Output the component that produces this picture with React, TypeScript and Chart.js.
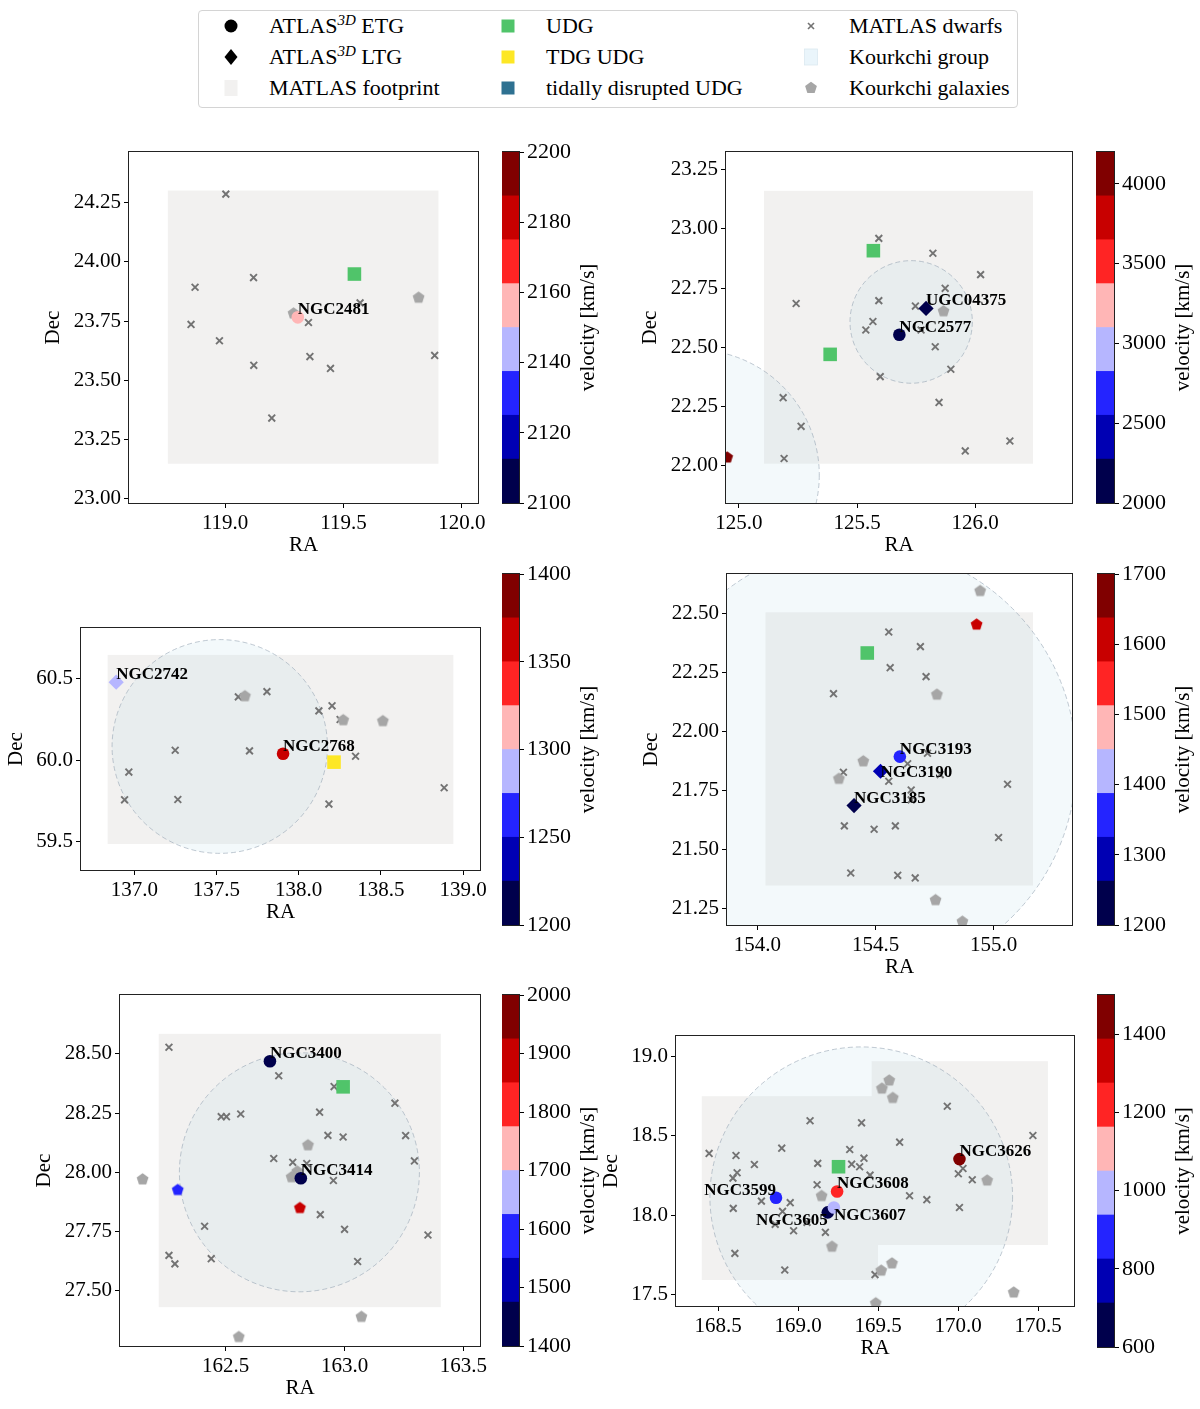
import React, { useEffect, useRef } from "react";
import { Chart, registerables } from "chart.js";
Chart.register(...registerables);

const SERIF = "'Liberation Serif', 'Times New Roman', Times, serif";
const SEISMIC = ["#00004c", "#0000b3", "#2424ff", "#b6b6ff", "#ffb6b6", "#ff2424", "#c80000", "#800000"];
const FOOTPRINT_COLOR = "#f2f1f0";
const GROUP_FILL = "rgba(173, 216, 230, 0.15)";
const GROUP_EDGE = "rgba(150, 165, 180, 0.6)";
const DWARF_COLOR = "#737373";
const KOURKCHI_COLOR = "#a6a6a6";
const UDG_COLOR = "#50c46a";
const TDG_COLOR = "#fde725";
const TIDAL_COLOR = "#2e7191";

type Pt = [number, number];
type VPt = [number, number, number];
type Gal = [string, number, number, number];
type Rect = [number, number, number, number];

// ---------------- Panel 1: NGC2481 ----------------
const p1RA: Pt = [118.594, 120.068];
const p1Dec: Pt = [22.981, 24.465];
const p1RATicks = [119.0, 119.5, 120.0];
const p1DecTicks = [23.0, 23.25, 23.5, 23.75, 24.0, 24.25];
const p1Vel: Pt = [2100, 2200];
const p1VelTicks = [2100, 2120, 2140, 2160, 2180, 2200];
const p1Footprint: Rect[] = [[118.758, 119.901, 23.147, 24.302]];
const p1Groups: VPt[] = [];
const p1Dwarfs: Pt[] = [
  [119.003, 24.287], [118.873, 23.893], [118.856, 23.736], [118.976, 23.667], [119.12, 23.934],
  [119.121, 23.563], [119.197, 23.34], [119.352, 23.744], [119.358, 23.6], [119.445, 23.55],
  [119.57, 23.827], [119.885, 23.605],
];
const p1Kourkchi: Pt[] = [[119.289, 23.782], [119.817, 23.849]];
const p1KourkchiVel: VPt[] = [];
const p1UDG: Pt[] = [[119.546, 23.949]];
const p1TDG: Pt[] = [];
const p1ETG: Gal[] = [["NGC2481", 119.307, 23.766, 2157]];
const p1LTG: Gal[] = [];

// ---------------- Panel 2: NGC2577 ----------------
const p2RA: Pt = [124.945, 126.41];
const p2Dec: Pt = [21.842, 23.325];
const p2RATicks = [125.0, 125.5, 126.0];
const p2DecTicks = [22.0, 22.25, 22.5, 22.75, 23.0, 23.25];
const p2Vel: Pt = [2000, 4200];
const p2VelTicks = [2000, 2500, 3000, 3500, 4000];
const p2Footprint: Rect[] = [[125.106, 126.245, 22.008, 23.161]];
const p2Groups: VPt[] = [[125.729, 22.607, 0.259], [124.81, 21.96, 0.53]];
const p2Dwarfs: Pt[] = [
  [125.592, 22.96], [125.821, 22.897], [126.023, 22.807], [125.873, 22.749], [125.242, 22.685],
  [125.592, 22.697], [125.747, 22.674], [125.567, 22.609], [125.537, 22.573], [125.771, 22.573],
  [125.831, 22.502], [125.897, 22.407], [125.598, 22.376], [125.847, 22.267], [125.187, 22.287],
  [125.263, 22.166], [125.191, 22.03], [125.958, 22.062], [126.147, 22.104],
];
const p2Kourkchi: Pt[] = [[125.866, 22.652]];
const p2KourkchiVel: VPt[] = [[124.95, 22.034, 4150]];
const p2UDG: Pt[] = [[125.569, 22.908], [125.386, 22.47]];
const p2TDG: Pt[] = [];
const p2ETG: Gal[] = [["NGC2577", 125.679, 22.553, 2060]];
const p2LTG: Gal[] = [["UGC04375", 125.792, 22.664, 2110]];

// ---------------- Panel 3: NGC2768 ----------------
const p3RA: Pt = [136.676, 139.103];
const p3Dec: Pt = [59.327, 60.81];
const p3RATicks = [137.0, 137.5, 138.0, 138.5, 139.0];
const p3DecTicks = [59.5, 60.0, 60.5];
const p3Vel: Pt = [1200, 1400];
const p3VelTicks = [1200, 1250, 1300, 1350, 1400];
const p3Footprint: Rect[] = [[136.838, 138.941, 59.486, 60.645]];
const p3Groups: VPt[] = [[137.52, 60.084, 0.655]];
const p3Dwarfs: Pt[] = [
  [137.633, 60.388], [137.807, 60.42], [138.123, 60.302], [138.203, 60.333], [138.252, 60.249],
  [137.249, 60.061], [137.701, 60.057], [138.346, 60.024], [136.967, 59.927], [136.941, 59.757],
  [137.265, 59.759], [138.184, 59.731], [138.885, 59.831],
];
const p3Kourkchi: Pt[] = [[137.673, 60.392], [138.271, 60.245], [138.512, 60.239]];
const p3KourkchiVel: VPt[] = [];
const p3UDG: Pt[] = [];
const p3TDG: Pt[] = [[138.215, 59.988]];
const p3ETG: Gal[] = [["NGC2768", 137.905, 60.039, 1360]];
const p3LTG: Gal[] = [["NGC2742", 136.89, 60.478, 1290]];

// ---------------- Panel 4: NGC3193 ----------------
const p4RA: Pt = [153.871, 155.332];
const p4Dec: Pt = [21.182, 22.666];
const p4RATicks = [154.0, 154.5, 155.0];
const p4DecTicks = [21.25, 21.5, 21.75, 22.0, 22.25, 22.5];
const p4Vel: Pt = [1200, 1700];
const p4VelTicks = [1200, 1300, 1400, 1500, 1600, 1700];
const p4Footprint: Rect[] = [[154.034, 155.167, 21.349, 22.504]];
const p4Groups: VPt[] = [[154.43, 21.869, 0.92]];
const p4Dwarfs: Pt[] = [
  [154.556, 22.421], [154.69, 22.359], [154.562, 22.27], [154.714, 22.232], [154.322, 22.16],
  [154.72, 21.908], [154.636, 21.864], [154.364, 21.828], [154.556, 21.79], [154.774, 21.818],
  [154.651, 21.753], [154.651, 21.711], [155.059, 21.777], [154.368, 21.601], [154.494, 21.587],
  [154.584, 21.601], [155.021, 21.552], [154.395, 21.402], [154.594, 21.392], [154.668, 21.381],
];
const p4Kourkchi: Pt[] = [
  [154.943, 22.594], [154.76, 22.156], [154.448, 21.874], [154.345, 21.8], [154.754, 21.287], [154.868, 21.196],
];
const p4KourkchiVel: VPt[] = [[154.928, 22.452, 1610]];
const p4UDG: Pt[] = [[154.465, 22.332]];
const p4TDG: Pt[] = [];
const p4ETG: Gal[] = [["NGC3193", 154.603, 21.894, 1370]];
const p4LTG: Gal[] = [["NGC3190", 154.521, 21.832, 1290], ["NGC3185", 154.409, 21.687, 1230]];

// ---------------- Panel 5: NGC3414 ----------------
const p5RA: Pt = [162.055, 163.57];
const p5Dec: Pt = [27.266, 28.749];
const p5RATicks = [162.5, 163.0, 163.5];
const p5DecTicks = [27.5, 27.75, 28.0, 28.25, 28.5];
const p5Vel: Pt = [1400, 2000];
const p5VelTicks = [1400, 1500, 1600, 1700, 1800, 1900, 2000];
const p5Footprint: Rect[] = [[162.218, 163.405, 27.43, 28.585]];
const p5Groups: VPt[] = [[162.81, 28.0, 0.505]];
const p5Dwarfs: Pt[] = [
  [162.261, 28.528], [162.723, 28.408], [162.956, 28.362], [162.481, 28.235], [162.503, 28.235],
  [162.563, 28.246], [162.895, 28.254], [163.212, 28.292], [162.93, 28.156], [162.994, 28.149],
  [163.257, 28.155], [162.702, 28.058], [162.782, 28.042], [162.841, 28.037], [163.294, 28.048],
  [162.953, 27.965], [162.898, 27.821], [163.0, 27.759], [163.351, 27.735], [162.411, 27.772],
  [162.261, 27.649], [162.286, 27.613], [162.439, 27.635], [163.055, 27.623],
];
const p5Kourkchi: Pt[] = [
  [162.846, 28.114], [162.801, 28.003], [162.777, 27.979], [162.15, 27.97], [162.555, 27.304], [163.071, 27.389],
];
const p5KourkchiVel: VPt[] = [[162.298, 27.925, 1590], [162.812, 27.849, 1880]];
const p5UDG: Pt[] = [[162.994, 28.361]];
const p5TDG: Pt[] = [];
const p5ETG: Gal[] = [["NGC3400", 162.686, 28.469, 1440], ["NGC3414", 162.816, 27.975, 1450]];
const p5LTG: Gal[] = [];

// ---------------- Panel 6: NGC3607 ----------------
const p6RA: Pt = [168.236, 170.724];
const p6Dec: Pt = [17.426, 19.13];
const p6RATicks = [168.5, 169.0, 169.5, 170.0, 170.5];
const p6DecTicks = [17.5, 18.0, 18.5, 19.0];
const p6Vel: Pt = [600, 1500];
const p6VelTicks = [600, 800, 1000, 1200, 1400];
const p6Footprint: Rect[] = [[168.397, 169.499, 17.59, 18.75], [169.459, 170.561, 17.811, 18.971]];
const p6Groups: VPt[] = [[169.394, 18.115, 0.946]];
const p6Dwarfs: Pt[] = [
  [168.443, 18.389], [168.611, 18.376], [168.618, 18.267], [168.592, 18.233], [168.726, 18.319],
  [168.897, 18.422], [169.074, 18.595], [169.396, 18.582], [169.122, 18.326], [169.322, 18.414],
  [169.334, 18.321], [169.411, 18.359], [169.384, 18.305], [169.449, 18.252], [169.634, 18.46],
  [169.118, 18.191], [168.77, 18.088], [168.95, 18.078], [168.594, 18.042], [168.902, 18.023],
  [168.856, 17.941], [168.971, 17.901], [169.055, 17.954], [169.17, 17.891], [169.696, 18.122],
  [169.804, 18.097], [169.932, 18.687], [170.001, 18.261], [170.03, 18.294], [170.088, 18.223],
  [170.008, 18.048], [170.467, 18.502], [168.604, 17.758], [168.916, 17.653], [169.48, 17.624],
];
const p6Kourkchi: Pt[] = [
  [169.569, 18.849], [169.523, 18.798], [169.591, 18.739], [169.146, 18.12], [169.211, 17.8],
  [169.519, 17.649], [169.586, 17.695], [170.181, 18.218], [170.347, 17.511], [169.485, 17.443],
];
const p6KourkchiVel: VPt[] = [];
const p6UDG: Pt[] = [[169.252, 18.305]];
const p6TDG: Pt[] = [];
const p6ETG: Gal[] = [
  ["NGC3626", 170.008, 18.353, 1480], ["NGC3599", 168.861, 18.109, 850], ["NGC3608", 169.243, 18.149, 1220],
  ["NGC3605", 169.185, 18.017, 660], ["NGC3607", 169.223, 18.048, 980],
];
const p6LTG: Gal[] = [];

// label anchoring (style)
const LABEL_ALIGN: Record<string, [CanvasTextAlign, string]> = {
  NGC3599: ["right", "bottom"],
  NGC3605: ["right", "top"],
  NGC3607: ["left", "top"],
  NGC3190: ["left", "middle"],
};

// layout of each panel in page pixels: axes box [L,T,R,B], y-axis band width, colorbar box
const LAYOUT = [
  { box: [129, 152, 478, 503], yw: 88, cb: [502, 152, 519, 503] },
  { box: [726, 152, 1072, 503], yw: 88, cb: [1096, 152, 1114, 503] },
  { box: [81, 628, 480, 870], yw: 77, cb: [502, 574, 519, 925] },
  { box: [727, 574, 1072, 925], yw: 88, cb: [1097, 574, 1114, 925] },
  { box: [120, 995, 480, 1346], yw: 88, cb: [502, 995, 519, 1346] },
  { box: [676, 1036, 1074, 1306], yw: 77, cb: [1097, 995, 1114, 1347] },
];

const PANELS = [
  { ra: p1RA, dec: p1Dec, raTicks: p1RATicks, decTicks: p1DecTicks, decDigits: 2, vel: p1Vel, velTicks: p1VelTicks, footprint: p1Footprint, groups: p1Groups, dwarfs: p1Dwarfs, kourkchi: p1Kourkchi, kourkchiVel: p1KourkchiVel, udg: p1UDG, tdg: p1TDG, etg: p1ETG, ltg: p1LTG },
  { ra: p2RA, dec: p2Dec, raTicks: p2RATicks, decTicks: p2DecTicks, decDigits: 2, vel: p2Vel, velTicks: p2VelTicks, footprint: p2Footprint, groups: p2Groups, dwarfs: p2Dwarfs, kourkchi: p2Kourkchi, kourkchiVel: p2KourkchiVel, udg: p2UDG, tdg: p2TDG, etg: p2ETG, ltg: p2LTG },
  { ra: p3RA, dec: p3Dec, raTicks: p3RATicks, decTicks: p3DecTicks, decDigits: 1, vel: p3Vel, velTicks: p3VelTicks, footprint: p3Footprint, groups: p3Groups, dwarfs: p3Dwarfs, kourkchi: p3Kourkchi, kourkchiVel: p3KourkchiVel, udg: p3UDG, tdg: p3TDG, etg: p3ETG, ltg: p3LTG },
  { ra: p4RA, dec: p4Dec, raTicks: p4RATicks, decTicks: p4DecTicks, decDigits: 2, vel: p4Vel, velTicks: p4VelTicks, footprint: p4Footprint, groups: p4Groups, dwarfs: p4Dwarfs, kourkchi: p4Kourkchi, kourkchiVel: p4KourkchiVel, udg: p4UDG, tdg: p4TDG, etg: p4ETG, ltg: p4LTG },
  { ra: p5RA, dec: p5Dec, raTicks: p5RATicks, decTicks: p5DecTicks, decDigits: 2, vel: p5Vel, velTicks: p5VelTicks, footprint: p5Footprint, groups: p5Groups, dwarfs: p5Dwarfs, kourkchi: p5Kourkchi, kourkchiVel: p5KourkchiVel, udg: p5UDG, tdg: p5TDG, etg: p5ETG, ltg: p5LTG },
  { ra: p6RA, dec: p6Dec, raTicks: p6RATicks, decTicks: p6DecTicks, decDigits: 1, vel: p6Vel, velTicks: p6VelTicks, footprint: p6Footprint, groups: p6Groups, dwarfs: p6Dwarfs, kourkchi: p6Kourkchi, kourkchiVel: p6KourkchiVel, udg: p6UDG, tdg: p6TDG, etg: p6ETG, ltg: p6LTG },
];

function velColor(v: number, range: Pt) {
  const t = (v - range[0]) / (range[1] - range[0]);
  const i = Math.max(0, Math.min(SEISMIC.length - 1, Math.floor(t * SEISMIC.length)));
  return SEISMIC[i];
}

function pentagon(color: string, R = 6.2) {
  const s = Math.ceil(2 * R + 2);
  const c = document.createElement("canvas");
  c.width = s;
  c.height = s;
  const ctx = c.getContext("2d")!;
  ctx.fillStyle = color;
  ctx.beginPath();
  for (let i = 0; i < 5; i++) {
    const a = -Math.PI / 2 + (i * 2 * Math.PI) / 5;
    const x = s / 2 + R * Math.cos(a);
    const y = s / 2 + R * Math.sin(a);
    if (i === 0) ctx.moveTo(x, y);
    else ctx.lineTo(x, y);
  }
  ctx.closePath();
  ctx.fill();
  return c;
}

const TITLE_FONT = { family: SERIF, size: 21 };
const TICK_FONT = { family: SERIF, size: 21 };
const CB_TICK_FONT = { family: SERIF, size: 22 };

function axisCommon(ticks: number[], digits: number, font: any = TICK_FONT) {
  return {
    type: "linear" as const,
    afterBuildTicks: (s: any) => {
      s.ticks = ticks.map((v) => ({ value: v }));
    },
    ticks: {
      font,
      color: "#000",
      padding: 3,
      autoSkip: false,
      maxRotation: 0,
      callback: (v: any) => Number(v).toFixed(digits),
    },
    grid: { display: true, drawOnChartArea: false, drawTicks: true, tickLength: 5, tickColor: "#000", color: "#000", lineWidth: 1 },
    border: { display: false },
  };
}

function framePlugin(id: string) {
  return {
    id,
    afterDraw(chart: any) {
      const { ctx, chartArea: a } = chart;
      ctx.save();
      ctx.strokeStyle = "#222";
      ctx.lineWidth = 1;
      ctx.strokeRect(Math.round(a.left) - 0.5, Math.round(a.top) - 0.5, Math.round(a.width) + 1, Math.round(a.height) + 1);
      ctx.restore();
    },
  };
}

function shapesPlugin(rects: Rect[], circles: VPt[]) {
  return {
    id: "shapes",
    beforeDatasetsDraw(chart: any) {
      const { ctx, chartArea: a, scales } = chart;
      const x = scales.x, y = scales.y;
      ctx.save();
      ctx.beginPath();
      ctx.rect(a.left, a.top, a.width, a.height);
      ctx.clip();
      ctx.fillStyle = FOOTPRINT_COLOR;
      rects.forEach(([x0, x1, y0, y1]) => {
        const px0 = x.getPixelForValue(x0), px1 = x.getPixelForValue(x1);
        const py0 = y.getPixelForValue(y0), py1 = y.getPixelForValue(y1);
        ctx.fillRect(Math.min(px0, px1), Math.min(py0, py1), Math.abs(px1 - px0), Math.abs(py1 - py0));
      });
      circles.forEach(([cx, cy, r]) => {
        const px = x.getPixelForValue(cx), py = y.getPixelForValue(cy);
        const rx = Math.abs(x.getPixelForValue(cx + r) - px);
        const ry = Math.abs(y.getPixelForValue(cy + r) - py);
        ctx.beginPath();
        ctx.ellipse(px, py, rx, ry, 0, 0, Math.PI * 2);
        ctx.fillStyle = GROUP_FILL;
        ctx.fill();
        ctx.setLineDash([5, 3]);
        ctx.strokeStyle = GROUP_EDGE;
        ctx.lineWidth = 1;
        ctx.stroke();
        ctx.setLineDash([]);
      });
      ctx.restore();
    },
  };
}

function labelPlugin(gals: Gal[]) {
  return {
    id: "galLabels",
    afterDatasetsDraw(chart: any) {
      const { ctx, scales } = chart;
      ctx.save();
      ctx.font = `bold 17px ${SERIF}`;
      ctx.fillStyle = "#000";
      ctx.textBaseline = "alphabetic";
      gals.forEach(([name, ra, dec]) => {
        const [ha, va] = LABEL_ALIGN[name] || ["left", "bottom"];
        const px = scales.x.getPixelForValue(ra);
        const py = scales.y.getPixelForValue(dec);
        ctx.textAlign = ha;
        const dy = va === "bottom" ? -3 : va === "top" ? 12.5 : 6;
        ctx.fillText(name, px, py + dy);
      });
      ctx.restore();
    },
  };
}

function colorbarLabelPlugin() {
  return {
    id: "cbLabel",
    afterDraw(chart: any) {
      const { ctx, chartArea: a } = chart;
      ctx.save();
      ctx.translate(a.right + 69, (a.top + a.bottom) / 2);
      ctx.rotate(-Math.PI / 2);
      ctx.font = `21px ${SERIF}`;
      ctx.fillStyle = "#000";
      ctx.textAlign = "center";
      ctx.textBaseline = "middle";
      ctx.fillText("velocity [km/s]", 0, 0);
      ctx.restore();
    },
  };
}

const toXY = (pts: (Pt | VPt)[]) => pts.map((p) => ({ x: p[0], y: p[1] }));

function Panel({ idx }: { idx: number }) {
  const p = PANELS[idx];
  const lay = LAYOUT[idx];
  const ref = useRef<HTMLCanvasElement>(null);
  const cbRef = useRef<HTMLCanvasElement>(null);
  const [L, T, R, B] = lay.box;
  const TOP_PAD = 20, RIGHT_PAD = 32, XH = 55;
  const cw = lay.yw + (R - L) + RIGHT_PAD;
  const ch = TOP_PAD + (B - T) + XH;
  const [cL, cT, cR, cB] = lay.cb;
  const CB_AXIS = 95;
  const cbw = cR - cL + CB_AXIS;
  const cbh = cB - cT + 40;

  useEffect(() => {
    const grayPent = pentagon(KOURKCHI_COLOR);
    const velPents = p.kourkchiVel.map((k) => pentagon(velColor(k[2], p.vel)));
    const chart = new Chart(ref.current!, {
      type: "scatter",
      data: {
        datasets: [
          {
            label: "MATLAS dwarfs",
            data: toXY(p.dwarfs),
            pointStyle: "crossRot",
            pointRadius: 4.8,
            pointBorderWidth: 1.9,
            pointBorderColor: DWARF_COLOR,
            pointBackgroundColor: "rgba(0,0,0,0)",
            order: 7,
            clip: 0,
          },
          {
            label: "Kourkchi galaxies",
            data: toXY(p.kourkchi),
            pointStyle: grayPent as any,
            pointRadius: 6,
            pointBorderWidth: 0,
            order: 6,
            clip: 0,
          },
          {
            label: "Kourkchi galaxies (velocity)",
            data: toXY(p.kourkchiVel),
            pointStyle: velPents as any,
            pointRadius: 6,
            pointBorderWidth: 0,
            order: 5,
            clip: 0,
          },
          {
            label: "UDG",
            data: toXY(p.udg),
            pointStyle: "rect",
            pointRadius: 9.6,
            pointBorderWidth: 0,
            pointBackgroundColor: UDG_COLOR,
            order: 4,
            clip: 0,
          },
          {
            label: "TDG UDG",
            data: toXY(p.tdg),
            pointStyle: "rect",
            pointRadius: 9.6,
            pointBorderWidth: 0,
            pointBackgroundColor: TDG_COLOR,
            order: 4,
            clip: 0,
          },
          {
            label: "ATLAS3D LTG",
            data: p.ltg.map((g) => ({ x: g[1], y: g[2] })),
            pointStyle: "rectRot",
            pointRadius: 7.6,
            pointBorderWidth: 0,
            pointBackgroundColor: p.ltg.map((g) => velColor(g[3], p.vel)),
            order: 2,
            clip: 0,
          },
          {
            label: "ATLAS3D ETG",
            data: p.etg.map((g) => ({ x: g[1], y: g[2] })),
            pointStyle: "circle",
            pointRadius: 6.3,
            pointBorderWidth: 0,
            pointBackgroundColor: p.etg.map((g) => velColor(g[3], p.vel)),
            order: 1,
            clip: 0,
          },
        ] as any,
      },
      options: {
        animation: false,
        responsive: false,
        events: [],
        layout: { padding: { top: TOP_PAD, right: RIGHT_PAD, left: 0, bottom: 0 } },
        plugins: { legend: { display: false }, tooltip: { enabled: false } },
        scales: {
          x: {
            ...axisCommon(p.raTicks, 1),
            min: p.ra[0],
            max: p.ra[1],
            position: "bottom",
            title: { display: true, text: "RA", font: TITLE_FONT, color: "#000", padding: 0 },
            afterFit: (s: any) => {
              s.height = XH;
            },
          },
          y: {
            ...axisCommon(p.decTicks, p.decDigits),
            min: p.dec[0],
            max: p.dec[1],
            position: "left",
            title: { display: true, text: "Dec", font: TITLE_FONT, color: "#000", padding: 0 },
            afterFit: (s: any) => {
              s.width = lay.yw;
            },
          },
        } as any,
      },
      plugins: [shapesPlugin(p.footprint, p.groups), labelPlugin([...p.ltg, ...p.etg]), framePlugin("frame")],
    });

    const n = SEISMIC.length;
    const step = (p.vel[1] - p.vel[0]) / n;
    const cb = new Chart(cbRef.current!, {
      type: "bar",
      data: {
        labels: [""],
        datasets: SEISMIC.map((c, i) => ({
          data: [[p.vel[0] + i * step, p.vel[0] + (i + 1) * step]],
          backgroundColor: c,
          borderWidth: 0,
          grouped: false,
          barPercentage: 1,
          categoryPercentage: 1,
        })) as any,
      },
      options: {
        animation: false,
        responsive: false,
        events: [],
        layout: { padding: { top: 20, bottom: 20, left: 0, right: 0 } },
        plugins: { legend: { display: false }, tooltip: { enabled: false } },
        scales: {
          x: { display: false },
          y: {
            ...axisCommon(p.velTicks, 0, CB_TICK_FONT),
            min: p.vel[0],
            max: p.vel[1],
            position: "right",
            afterFit: (s: any) => {
              s.width = CB_AXIS;
            },
          },
        } as any,
      },
      plugins: [framePlugin("cbframe"), colorbarLabelPlugin()],
    });
    return () => {
      chart.destroy();
      cb.destroy();
    };
  }, []);

  return (
    <>
      <canvas
        ref={ref}
        width={cw}
        height={ch}
        style={{ position: "absolute", left: L - lay.yw, top: T - TOP_PAD, width: cw, height: ch }}
      />
      <canvas
        ref={cbRef}
        width={cbw}
        height={cbh}
        style={{ position: "absolute", left: cL, top: cT - 20, width: cbw, height: cbh }}
      />
    </>
  );
}

// ---------------- Legend ----------------
const LEGEND_MARKER_X = [231, 508, 811];
const LEGEND_TEXT_X = [269, 546, 849];
const LEGEND_ROW_Y = [26, 57, 88];

function Marker({ kind, color }: { kind: string; color: string }) {
  const s = 22;
  const c = s / 2;
  let el: React.ReactNode = null;
  if (kind === "circle") el = <circle cx={c} cy={c} r={6.5} fill={color} />;
  else if (kind === "diamond")
    el = <polygon points={`${c},${c - 8} ${c + 6.5},${c} ${c},${c + 8} ${c - 6.5},${c}`} fill={color} />;
  else if (kind === "square") el = <rect x={c - 6.5} y={c - 6.5} width={13} height={13} fill={color} />;
  else if (kind === "patch")
    el = <rect x={c - 6.5} y={c - 8} width={13} height={16} fill={color} stroke="#dbe9f0" strokeWidth={0.8} />;
  else if (kind === "patchGray") el = <rect x={c - 6.5} y={c - 8} width={13} height={16} fill={color} />;
  else if (kind === "x")
    el = (
      <g stroke={color} strokeWidth={1.6}>
        <line x1={c - 3} y1={c - 3} x2={c + 3} y2={c + 3} />
        <line x1={c - 3} y1={c + 3} x2={c + 3} y2={c - 3} />
      </g>
    );
  else if (kind === "pentagon") {
    const pts = [0, 1, 2, 3, 4]
      .map((i) => {
        const a = -Math.PI / 2 + (i * 2 * Math.PI) / 5;
        return `${c + 6.2 * Math.cos(a)},${c + 6.2 * Math.sin(a)}`;
      })
      .join(" ");
    el = <polygon points={pts} fill={color} />;
  }
  return (
    <svg width={s} height={s} style={{ display: "block" }}>
      {el}
    </svg>
  );
}

const SUP = (
  <span style={{ fontStyle: "italic", fontSize: 15, position: "relative", top: -8 }}>3D</span>
);

const LEGEND_ITEMS: { col: number; row: number; kind: string; color: string; label: React.ReactNode }[] = [
  { col: 0, row: 0, kind: "circle", color: "#000", label: <>ATLAS{SUP} ETG</> },
  { col: 0, row: 1, kind: "diamond", color: "#000", label: <>ATLAS{SUP} LTG</> },
  { col: 0, row: 2, kind: "patchGray", color: FOOTPRINT_COLOR, label: "MATLAS footprint" },
  { col: 1, row: 0, kind: "square", color: UDG_COLOR, label: "UDG" },
  { col: 1, row: 1, kind: "square", color: TDG_COLOR, label: "TDG UDG" },
  { col: 1, row: 2, kind: "square", color: TIDAL_COLOR, label: "tidally disrupted UDG" },
  { col: 2, row: 0, kind: "x", color: DWARF_COLOR, label: "MATLAS dwarfs" },
  { col: 2, row: 1, kind: "patch", color: "#eaf5fb", label: "Kourkchi group" },
  { col: 2, row: 2, kind: "pentagon", color: KOURKCHI_COLOR, label: "Kourkchi galaxies" },
];

function Legend() {
  return (
    <>
      <div
        style={{
          position: "absolute",
          left: 198,
          top: 10,
          width: 820,
          height: 98,
          border: "1px solid #d4d4d4",
          borderRadius: 4,
          boxSizing: "border-box",
          background: "#fff",
        }}
      />
      {LEGEND_ITEMS.map((it, i) => (
        <React.Fragment key={i}>
          <div style={{ position: "absolute", left: LEGEND_MARKER_X[it.col] - 11, top: LEGEND_ROW_Y[it.row] - 11 }}>
            <Marker kind={it.kind} color={it.color} />
          </div>
          <div
            style={{
              position: "absolute",
              left: LEGEND_TEXT_X[it.col],
              top: LEGEND_ROW_Y[it.row] - 13,
              height: 26,
              lineHeight: "26px",
              fontFamily: SERIF,
              fontSize: 22,
              color: "#000",
              whiteSpace: "nowrap",
            }}
          >
            {it.label}
          </div>
        </React.Fragment>
      ))}
    </>
  );
}

export default function App() {
  return (
    <div style={{ position: "absolute", left: 0, top: 0, width: 1200, height: 1409, background: "#fff", overflow: "hidden" }}>
      <Legend />
      {PANELS.map((_, i) => (
        <Panel key={i} idx={i} />
      ))}
    </div>
  );
}
